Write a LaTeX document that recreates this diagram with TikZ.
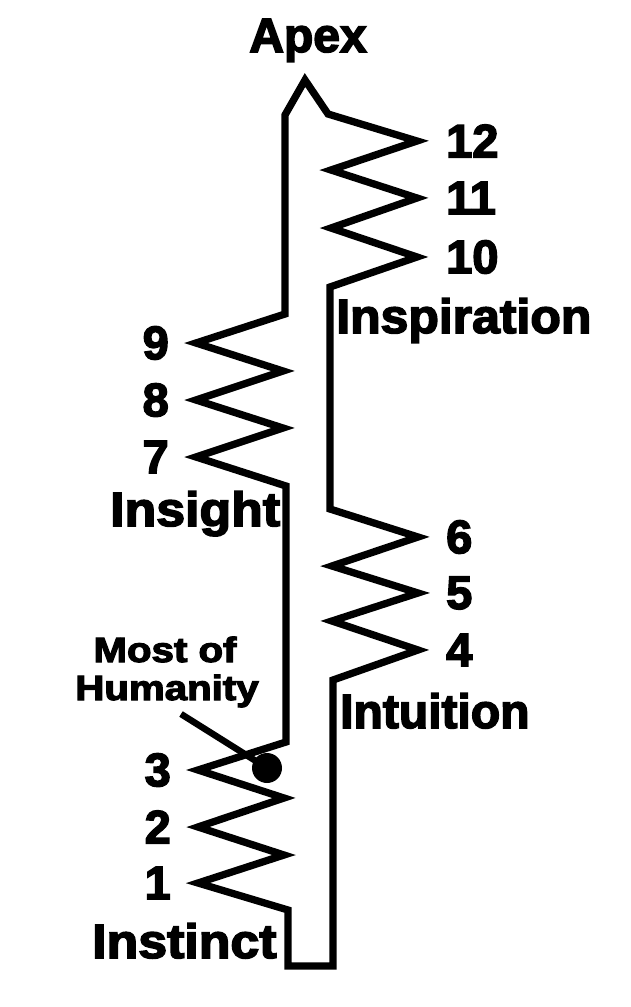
\documentclass[tikz,border=0pt]{standalone}
\usepackage{fontspec}
\setmainfont{Liberation Sans}
\newfontfamily\heavy[UprightFont={* Bold},FakeBold=3.2]{Liberation Sans}
\begin{document}
\begin{tikzpicture}[x=1pt,y=-1pt,
  lbl/.style={font=\heavy\fontsize{48}{48}\selectfont, inner sep=0pt, anchor=base west},
  num/.style={font=\heavy\fontsize{47}{47}\selectfont, inner sep=0pt},
  small/.style={font=\heavy\fontsize{35}{35}\selectfont, inner sep=0pt, anchor=base, xscale=1.15},
  band/.style={draw=black, line width=7.3pt, line join=miter, miter limit=10},
  pointer/.style={draw=black, line width=6.5pt}]
\useasboundingbox (0,0) rectangle (631,1007);
\fill[white] (0,0) rectangle (631,1007);

% the band
\draw[band] (305,80) -- (285,115) -- (285,314)
  -- (196,343) -- (283,371) -- (196,400) -- (283,428) -- (196,457)
  -- (286,486) -- (286,742)
  -- (198,770) -- (284,798) -- (198,827) -- (284,855) -- (198,883)
  -- (288,910) -- (288,966) -- (333,966) -- (333,680)
  -- (418,650) -- (332,621) -- (418,593) -- (332,566) -- (418,537)
  -- (330,509) -- (330,287)
  -- (417,257) -- (331,228) -- (417,198) -- (331,170) -- (417,141)
  -- (328,114) -- cycle;

% labels
\node[lbl, anchor=base] (apex) at (308,52) {Apex};
\node[lbl, xscale=1.04] (inspiration) at (336,333) {Inspiration};
\node[lbl, xscale=1.08] (insight) at (110,526) {Insight};
\node[lbl] (intuition) at (340,728) {Intuition};
\node[lbl, xscale=1.08] (instinct) at (92,958) {Instinct};

% numbers
\node[num, anchor=west] (n12) at (446,141) {12};
\node[num, anchor=west] (n11) at (446,198) {11};
\node[num, anchor=west] (n10) at (446,257) {10};
\node[num, anchor=east] (n9) at (169,343) {9};
\node[num, anchor=east] (n8) at (169,400) {8};
\node[num, anchor=east] (n7) at (169,457) {7};
\node[num, anchor=west] (n6) at (446,537) {6};
\node[num, anchor=west] (n5) at (446,593) {5};
\node[num, anchor=west] (n4) at (446,650) {4};
\node[num, anchor=east] (n3) at (171,770) {3};
\node[num, anchor=east] (n2) at (171,827) {2};
\node[num, anchor=east] (n1) at (171,883) {1};

% most of humanity
\node[small] (most) at (165,662) {Most of};
\node[small] (humanity) at (167,700) {Humanity};
\coordinate (ptr) at (181,714);
\node[circle, fill=black, minimum size=30pt, inner sep=0pt] (dot) at (267,768) {};
\draw[pointer] (ptr) -- (dot.center);
\end{tikzpicture}
\end{document}
